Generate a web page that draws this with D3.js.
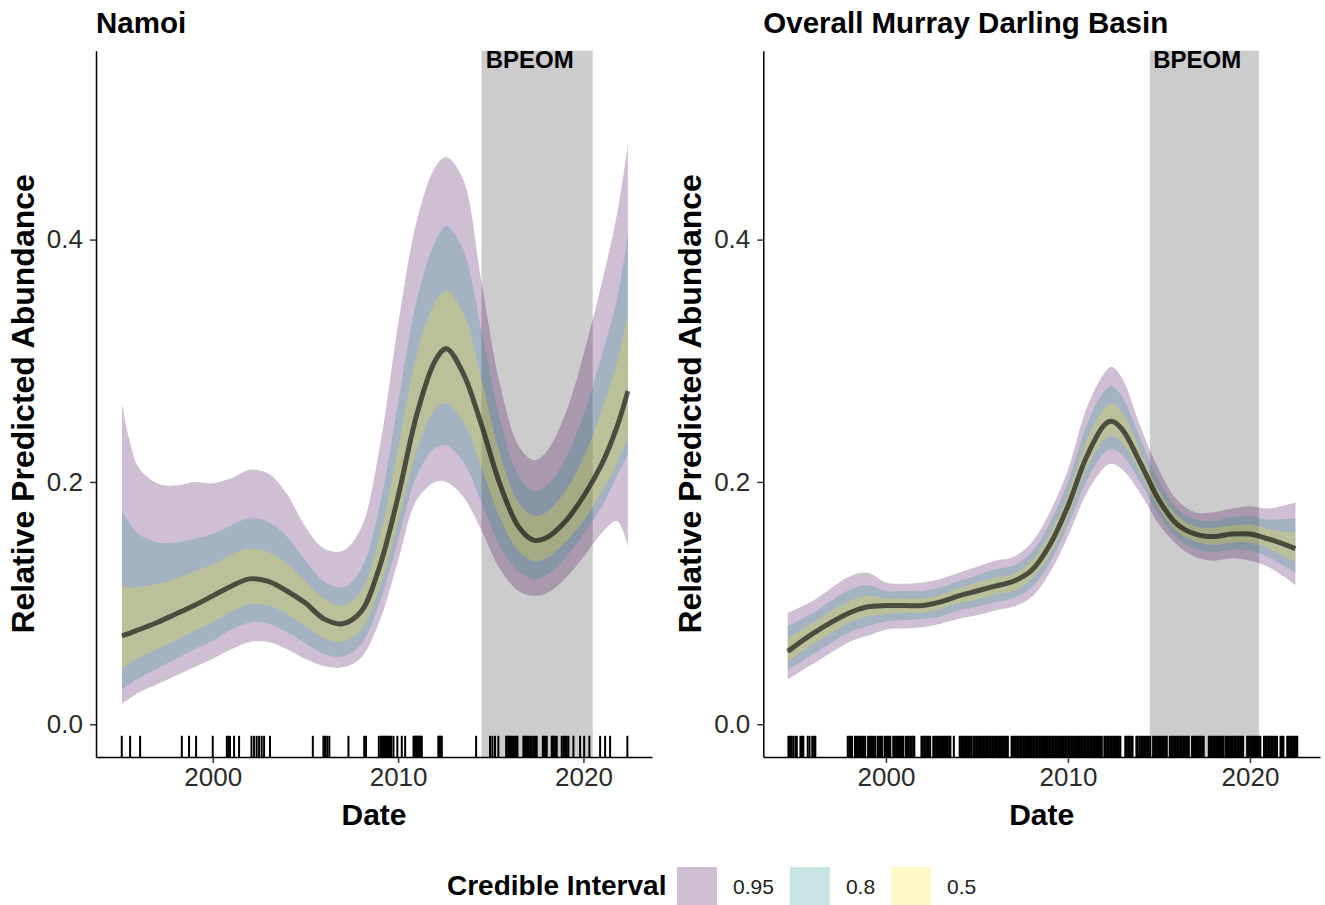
<!DOCTYPE html>
<html><head><meta charset="utf-8">
<script src="https://cdn.jsdelivr.net/npm/d3@7"></script>
<style>
body{margin:0;background:#fff}
svg{display:block}
text{font-family:"Liberation Sans",Arial,Helvetica,sans-serif}
</style>
</head><body>
<svg id="chart" width="1325" height="905"></svg>
<script>
// ---------------- DATA ----------------
const panelTitles = ["Namoi", "Overall Murray Darling Basin"];
const xTickValues = [2000, 2010, 2020];
const yTickValues = [0, 0.2, 0.4];
const yTickLabels = ["0.0", "0.2", "0.4"];
const bpeomStart = 2014.5, bpeomEnd = 2020.5, bpeomLabelYear = 2017.1;
const bpeomLabel = "BPEOM";
const intervalLevels = ["0.95", "0.8", "0.5"];
const intervalColors = ["#440154", "#21908C", "#FDE725"];

// Namoi
const namoiYears  = [1995.1,1995.5,1996,1997,1998,1999,2000,2001,2002,2003,2004,2005,2006,2007,2008,2009,2010,2011,2012,2012.6,2013.5,2014.5,2015.5,2016.5,2017.3,2018,2019,2020,2021,2021.8,2022.4];
const namoiMedian = [.073,.075,.078,.084,.091,.098,.106,.114,.120,.118,.110,.100,.087,.083,.093,.130,.188,.255,.300,.310,.290,.247,.198,.163,.152,.154,.167,.188,.215,.245,.275];
const namoiHi95   = [.265,.235,.212,.199,.197,.200,.199,.203,.210,.207,.190,.163,.145,.143,.162,.228,.330,.415,.460,.468,.450,.365,.280,.230,.218,.225,.255,.305,.365,.420,.478];
const namoiLo95   = [.017,.021,.026,.033,.040,.047,.054,.062,.068,.068,.062,.054,.048,.047,.055,.085,.135,.185,.200,.200,.188,.160,.128,.110,.106,.108,.120,.138,.158,.168,.147];
const namoiHi80   = [.176,.166,.157,.150,.150,.153,.157,.164,.170,.167,.155,.135,.118,.113,.128,.180,.265,.350,.398,.411,.392,.325,.252,.205,.193,.197,.218,.255,.305,.350,.405];
const namoiLo80   = [.029,.033,.038,.046,.054,.062,.069,.078,.084,.083,.076,.067,.058,.056,.066,.100,.152,.205,.228,.230,.217,.183,.147,.126,.120,.123,.137,.157,.180,.205,.222];
const namoiHi50   = [.114,.113,.113,.116,.120,.126,.132,.140,.145,.142,.133,.118,.104,.098,.110,.155,.228,.305,.348,.358,.340,.285,.223,.183,.172,.175,.192,.220,.260,.298,.338];
const namoiLo50   = [.046,.050,.055,.062,.069,.077,.084,.093,.099,.098,.091,.081,.071,.068,.078,.112,.167,.226,.260,.265,.250,.212,.170,.143,.135,.137,.150,.168,.192,.215,.237];
const namoiRug = [1995.09,1995.54,1996.08,1998.33,1998.72,1999.10,2000.0,2000.76,2000.84,2000.93,2001.15,2001.42,
  2002.09,2002.23,2002.37,2002.5,2002.64,2002.77,2003.09,2005.40,2005.97,2006.04,2006.08,2006.18,2006.29,2007.32,
  2008.17,2008.27,2008.96,2009.07,2009.12,2009.17,2009.24,2009.30,2009.36,2009.42,2009.5,2009.57,2009.63,2009.75,2009.96,
  2010.2,2010.38,2010.83,2010.87,2010.92,2010.97,2011.01,2011.05,2011.1,2011.14,2011.19,2011.24,2011.28,
  2012.17,2012.22,2012.27,2012.31,2012.36,2014.21,2014.96,2015.09,2015.23,2015.41,2015.83,2015.89,2015.95,2016.02,2016.08,
  2016.15,2016.22,2016.31,2016.38,2016.44,2016.76,2016.83,2016.89,2016.96,2017.03,2017.12,2017.21,2017.3,2017.39,2017.48,
  2017.81,2017.87,2017.93,2018.02,2018.29,2018.34,2018.38,2018.47,2018.56,2018.83,2018.92,2019.01,2019.1,2019.19,
  2019.46,2019.82,2020.04,2020.32,2020.9,2021.17,2021.44,2022.37];

// Overall Murray Darling Basin
const mdbYears  = [1994.6,1996,1998,1999,2000,2001,2002,2003,2004,2005,2006,2007,2008,2009,2010,2011,2012,2012.4,2013,2014,2015,2016,2017,2018,2019,2020,2021,2022.5];
const mdbMedian = [.060,.075,.092,.097,.098,.098,.098,.101,.106,.110,.114,.118,.127,.148,.180,.220,.247,.250,.243,.215,.185,.165,.157,.155,.157,.157,.153,.145];
const mdbHi95   = [.092,.102,.122,.125,.117,.116,.117,.120,.125,.130,.135,.138,.150,.175,.210,.260,.290,.295,.285,.245,.210,.185,.175,.175,.178,.180,.178,.183];
const mdbLo95   = [.037,.050,.068,.073,.078,.079,.080,.083,.087,.090,.094,.097,.105,.125,.155,.190,.212,.215,.210,.190,.165,.148,.138,.135,.137,.135,.130,.115];
const mdbHi80   = [.081,.092,.111,.115,.110,.110,.110,.113,.118,.123,.128,.131,.142,.166,.200,.246,.275,.279,.270,.235,.201,.178,.169,.168,.171,.172,.169,.170];
const mdbLo80   = [.045,.058,.076,.081,.085,.086,.087,.089,.094,.097,.101,.104,.113,.133,.164,.200,.224,.227,.222,.199,.172,.154,.145,.142,.144,.143,.138,.125];
const mdbHi50   = [.071,.084,.102,.106,.104,.104,.104,.107,.112,.117,.121,.124,.135,.157,.190,.233,.261,.265,.257,.225,.193,.172,.163,.162,.164,.165,.161,.158];
const mdbLo50   = [.052,.066,.084,.089,.091,.092,.092,.095,.100,.103,.107,.110,.120,.140,.171,.210,.235,.238,.232,.207,.178,.159,.151,.148,.150,.150,.145,.134];
const mdbRug = [1994.64,1994.72,1994.80,1994.90,1995.02,1995.10,1995.30,1995.38,1995.46,1995.70,1995.80,1995.95,1996.05,1996.12,
  1997.90,1997.98,1998.06,1998.14,1998.30,1998.38,1998.46,1998.54,1998.62,1998.70,1998.78,1998.86,1999.02,1999.10,1999.18,1999.26,1999.34,1999.42,1999.55,1999.63,1999.71,1999.78,
  1999.92,2000.00,2000.08,2000.16,2000.24,2000.40,2000.48,2000.56,2000.64,2000.72,2000.80,2000.88,2000.96,2001.10,2001.18,2001.26,2001.34,2001.42,2001.50,2001.56,
  2001.95,2002.03,2002.11,2002.19,2002.27,2002.35,2002.43,2002.60,2002.68,2002.76,2002.84,2002.92,2003.00,2003.08,2003.16,2003.24,2003.32,2003.40,2003.48,2003.54,
  2003.73,
  2004.05,2004.13,2004.21,2004.29,2004.37,2004.45,2004.53,2004.61,2004.69,2004.80,2004.88,2004.96,2005.04,2005.12,2005.20,2005.28,2005.36,2005.44,2005.52,2005.60,2005.68,2005.76,2005.84,2005.92,2006.00,2006.08,2006.16,2006.24,2006.32,2006.40,2006.48,2006.56,2006.64,2006.70,
  2006.90,2006.98,2007.06,2007.14,2007.22,2007.30,2007.38,2007.46,2007.54,2007.62,2007.70,2007.78,2007.86,2007.94,2008.02,2008.10,2008.18,2008.26,2008.34,2008.42,2008.50,2008.58,2008.66,2008.74,2008.82,2008.90,2008.98,
  2009.06,2009.14,2009.22,2009.30,2009.38,2009.46,2009.54,2009.62,2009.70,2009.78,2009.86,2009.94,2010.02,2010.10,2010.18,2010.26,2010.34,2010.42,2010.50,2010.58,2010.66,2010.74,2010.82,2010.90,2010.98,
  2011.06,2011.14,2011.22,2011.30,2011.38,2011.46,2011.54,2011.62,2011.70,2011.78,2011.86,
  2012.00,2012.08,2012.16,2012.24,2012.32,2012.40,2012.48,2012.56,2012.64,2012.72,2012.80,2012.88,
  2013.15,2013.23,2013.31,2013.39,2013.47,2013.55,2013.76,2013.84,2013.94,2014.02,2014.12,2014.20,2014.28,2014.36,2014.44,2014.52,
  2014.68,2014.76,2014.84,2014.95,2015.03,2015.11,2015.19,2015.27,2015.35,2015.43,2015.60,2015.68,2015.76,2015.84,2015.92,2016.00,
  2016.09,2016.17,2016.25,2016.33,2016.41,2016.49,2016.57,2016.64,2016.82,2016.90,2016.98,2017.06,2017.14,2017.22,2017.30,2017.38,2017.46,
  2017.74,2017.82,2017.90,2017.98,2018.06,2018.14,2018.22,2018.30,2018.38,2018.46,2018.54,2018.66,2018.74,2018.82,2018.90,2018.98,
  2019.06,2019.14,2019.22,2019.30,2019.38,2019.46,2019.54,2019.62,2019.85,2019.93,2020.01,2020.09,2020.17,2020.25,2020.33,2020.41,2020.49,2020.57,
  2020.77,2020.85,2020.93,2021.01,2021.09,2021.17,2021.25,2021.33,2021.41,2021.49,2021.68,2021.76,2021.84,
  2022.05,2022.13,2022.21,2022.29,2022.37,2022.45,2022.53,2022.60];

// ---------------- BUILD ----------------
function rows(years, med, lo95, hi95, lo80, hi80, lo50, hi50) {
  return years.map((yr, i) => ({yr, med: med[i], lo95: lo95[i], hi95: hi95[i], lo80: lo80[i], hi80: hi80[i], lo50: lo50[i], hi50: hi50[i]}));
}
const panels = [
  {title: panelTitles[0], data: rows(namoiYears, namoiMedian, namoiLo95, namoiHi95, namoiLo80, namoiHi80, namoiLo50, namoiHi50), rug: namoiRug,
   left: 96, right: 652, xDomain: [1993.70, 2023.70]},
  {title: panelTitles[1], data: rows(mdbYears, mdbMedian, mdbLo95, mdbHi95, mdbLo80, mdbHi80, mdbLo50, mdbHi50), rug: mdbRug,
   left: 763.3, right: 1320, xDomain: [1993.26, 2023.85]}
];
const panelTop = 50.7, panelBottom = 757;
const svg = d3.select("#chart");
const y = d3.scaleLinear().domain([-0.0270, 0.5559]).range([panelBottom, panelTop]);
const FONT = '"Liberation Sans",Arial,Helvetica,sans-serif';

panels.forEach(p => {
  const x = d3.scaleLinear().domain(p.xDomain).range([p.left, p.right]);
  const g = svg.append("g");

  g.append("rect")
    .attr("x", x(bpeomStart)).attr("width", x(bpeomEnd) - x(bpeomStart))
    .attr("y", panelTop).attr("height", panelBottom - panelTop)
    .attr("fill", "#CCCCCC");

  const bands = [["lo95","hi95"],["lo80","hi80"],["lo50","hi50"]];
  bands.forEach((b, i) => {
    const area = d3.area().curve(d3.curveCatmullRom.alpha(0.5))
      .x(d => x(d.yr)).y0(d => y(d[b[0]])).y1(d => y(d[b[1]]));
    g.append("path").datum(p.data).attr("d", area)
      .attr("fill", intervalColors[i]).attr("fill-opacity", 0.25);
  });

  const line = d3.line().curve(d3.curveCatmullRom.alpha(0.5)).x(d => x(d.yr)).y(d => y(d.med));
  g.append("path").datum(p.data).attr("d", line)
    .attr("fill", "none").attr("stroke", "#000").attr("stroke-opacity", 0.6)
    .attr("stroke-width", 5).attr("stroke-linecap", "butt").attr("stroke-linejoin", "round");

  const rugLen = 0.03 * (panelBottom - panelTop);
  g.append("g").selectAll("line").data(p.rug).join("line")
    .attr("x1", d => x(d)).attr("x2", d => x(d))
    .attr("y1", panelBottom).attr("y2", panelBottom - rugLen)
    .attr("stroke", "#000").attr("stroke-width", 2);

  const xAxis = g.append("g").attr("transform", `translate(0,${panelBottom})`)
    .call(d3.axisBottom(x).tickValues(xTickValues).tickFormat(d3.format("d")).tickSize(6).tickSizeOuter(0).tickPadding(5));
  const yAxis = g.append("g").attr("transform", `translate(${p.left},0)`)
    .call(d3.axisLeft(y).tickValues(yTickValues).tickFormat((d, i) => yTickLabels[i]).tickSize(6).tickSizeOuter(0).tickPadding(7));
  [xAxis, yAxis].forEach(a => {
    a.select(".domain").attr("stroke", "#000").attr("stroke-width", 1.5);
    a.selectAll(".tick line").attr("stroke", "#333").attr("stroke-width", 1.5);
    a.selectAll(".tick text").attr("fill", "#2a2a2a").style("font-size", "26px").style("font-family", FONT);
  });

  g.append("text").attr("x", x(bpeomLabelYear)).attr("y", 68)
    .attr("text-anchor", "middle").style("font-size", "24px").style("font-weight", "bold")
    .attr("fill", "#000").text(bpeomLabel);

  g.append("text").attr("x", p.left).attr("y", 33)
    .style("font-size", "29.5px").style("font-weight", "bold").attr("fill", "#000").text(p.title);

  g.append("text").attr("x", (p.left + p.right) / 2).attr("y", 825)
    .attr("text-anchor", "middle").style("font-size", "30px").style("font-weight", "bold").text("Date");
  g.append("text").attr("transform", `translate(${p.left - 62.5},${(panelTop + panelBottom) / 2}) rotate(-90)`)
    .attr("text-anchor", "middle").style("font-size", "32px").style("font-weight", "bold")
    .text("Relative Predicted Abundance");
});

const lg = svg.append("g");
lg.append("text").attr("x", 447).attr("y", 895).style("font-size", "28px").style("font-weight", "bold").text("Credible Interval");
let lx = 677;
intervalLevels.forEach((lvl, i) => {
  lg.append("rect").attr("x", lx).attr("y", 867).attr("width", 40).attr("height", 38)
    .attr("fill", intervalColors[i]).attr("fill-opacity", 0.25);
  const t = lg.append("text").attr("x", lx + 56).attr("y", 894).style("font-size", "21px").attr("fill", "#222").text(lvl);
  lx = lx + 56 + t.node().getComputedTextLength() + 16;
});
</script>
</body></html>
